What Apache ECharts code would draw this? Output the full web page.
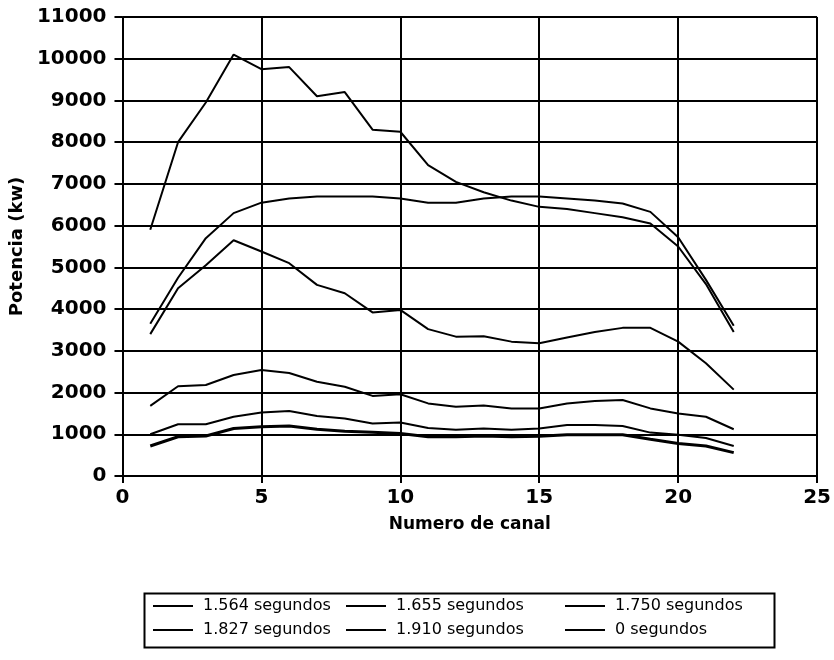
<!DOCTYPE html>
<html>
<head>
<meta charset="utf-8">
<script src="https://cdn.jsdelivr.net/npm/echarts@6/dist/echarts.min.js"></script>
<style>
  html, body { margin: 0; padding: 0; background: #fff; }
  #chart { width: 834px; height: 660px; }
</style>
</head>
<body>
<div id="chart"></div>
<script>
// Power per channel at several instants of the transient
const canal = [1, 2, 3, 4, 5, 6, 7, 8, 9, 10, 11, 12, 13, 14, 15, 16, 17, 18, 19, 20, 21, 22];

const seriesNames = ['1.564 segundos', '1.655 segundos', '1.750 segundos',
                     '1.827 segundos', '1.910 segundos', '0 segundos'];

const p1564 = [5900, 8000, 8950, 10100, 9750, 9800, 9100, 9200, 8300, 8250, 7450,
               7050, 6800, 6600, 6450, 6400, 6300, 6200, 6050, 5500, 4600, 3450];
const p1655 = [3400, 4500, 5050, 5650, 5380, 5100, 4580, 4380, 3920, 3980, 3520,
               3340, 3350, 3220, 3180, 3320, 3450, 3550, 3550, 3220, 2700, 2070];
const p1750 = [1680, 2150, 2180, 2420, 2540, 2470, 2260, 2140, 1920, 1960, 1740,
               1660, 1690, 1620, 1620, 1740, 1800, 1820, 1620, 1500, 1420, 1120];
const p1827 = [1000, 1240, 1240, 1420, 1520, 1560, 1440, 1380, 1260, 1280, 1150,
               1110, 1140, 1110, 1140, 1220, 1220, 1200, 1040, 990, 910, 720];
const p1910 = [720, 940, 960, 1140, 1180, 1200, 1120, 1070, 1050, 1020, 940,
               940, 960, 940, 950, 990, 990, 990, 880, 780, 720, 560];
const p0 = [3650, 4750, 5700, 6300, 6550, 6650, 6700, 6700, 6700, 6650, 6550,
            6550, 6650, 6700, 6700, 6650, 6600, 6530, 6330, 5720, 4700, 3600];

const yTicks = { min: 0, max: 11000, step: 1000 };
const xTicks = { min: 0, max: 25, step: 5 };

const seriesValues = [p1564, p1655, p1750, p1827, p1910, p0];
const seriesWidths = [2, 2, 2, 2, 3, 2];

// legend columns: each column lists two entries, one per row
const legendColumns = [
  ['1.564 segundos', '1.827 segundos'],
  ['1.655 segundos', '1.910 segundos'],
  ['1.750 segundos', '0 segundos']
];
const legendColumnX = [153, 346, 565];

const FONT = '"DejaVu Sans", sans-serif';

const chart = echarts.init(document.getElementById('chart'), null, { renderer: 'canvas' });

const series = seriesNames.map((name, i) => ({
  name: name,
  type: 'line',
  data: canal.map((c, k) => [c, seriesValues[i][k]]),
  showSymbol: false,
  symbol: 'none',
  lineStyle: { color: '#000', width: seriesWidths[i] },
  itemStyle: { color: '#000' },
  emphasis: { disabled: true },
  animation: false
}));

const legends = legendColumns.map((names, i) => ({
  data: names,
  left: legendColumnX[i],
  top: 596,
  orient: 'vertical',
  icon: 'rect',
  itemWidth: 40,
  itemHeight: 2,
  itemGap: 4,
  padding: 0,
  selectedMode: false,
  textStyle: { fontFamily: FONT, fontSize: 16, color: '#000', lineHeight: 20, padding: [0, 0, 0, 5] }
}));

chart.setOption({
  backgroundColor: '#fff',
  animation: false,
  grid: { left: 122, right: 12, top: 17, bottom: 184, containLabel: false },
  xAxis: {
    type: 'value',
    min: xTicks.min, max: xTicks.max, interval: xTicks.step,
    name: 'Numero de canal',
    nameLocation: 'middle',
    nameGap: 40,
    nameTextStyle: { fontFamily: FONT, fontSize: 17, fontWeight: 'bold', color: '#000' },
    axisLine: { show: true, lineStyle: { color: '#000', width: 2 } },
    axisTick: { show: true, length: 7, lineStyle: { color: '#000', width: 2 } },
    axisLabel: { margin: 12, fontFamily: FONT, fontSize: 20, fontWeight: 'bold', color: '#000' },
    splitLine: { show: true, lineStyle: { color: '#000', width: 2 } }
  },
  yAxis: {
    type: 'value',
    min: yTicks.min, max: yTicks.max, interval: yTicks.step,
    name: 'Potencia (kw)',
    nameLocation: 'middle',
    nameGap: 89,
    nameRotate: 90,
    nameTextStyle: { fontFamily: FONT, fontSize: 18, fontWeight: 'bold', color: '#000' },
    axisLine: { show: true, lineStyle: { color: '#000', width: 2 } },
    axisTick: { show: true, length: 8, lineStyle: { color: '#000', width: 2 } },
    axisLabel: {
      margin: 16, fontFamily: FONT, fontSize: 20, fontWeight: 'bold', color: '#000',
      formatter: v => String(v)
    },
    splitLine: { show: true, lineStyle: { color: '#000', width: 2 } }
  },
  legend: legends,
  graphic: [{
    type: 'rect',
    left: 142, top: 591,
    shape: { width: 630, height: 54 },
    style: { fill: 'none', stroke: '#000', lineWidth: 2 },
    silent: true,
    z: 0
  }],
  series: series
});
</script>
</body>
</html>
